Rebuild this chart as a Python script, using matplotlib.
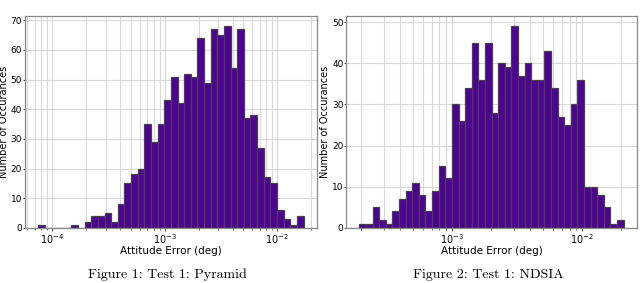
import numpy as np
import matplotlib
matplotlib.use("Agg")
import matplotlib.pyplot as plt

# Histogram data (counts per log-spaced bin)
pyramid_counts = [1, 0, 0, 0, 0, 1, 0, 2, 4, 4, 5, 2, 8, 15, 18, 20, 35, 29, 35, 43,
                  51, 42, 52, 51, 64, 49, 67, 65, 68, 54, 67, 37, 38, 27, 17, 15, 6, 3, 1, 4]
pyramid_log_range = (-4.124, -1.767)   # log10 of min / max attitude error

ndsia_counts = [1, 1, 5, 2, 1, 4, 7, 9, 11, 8, 4, 9, 15, 12, 30, 26, 34, 45, 36, 45,
                28, 40, 39, 49, 37, 40, 36, 36, 43, 34, 27, 25, 30, 36, 10, 10, 8, 5, 1, 2]
ndsia_log_range = (-3.712, -1.682)

captions = ["Figure 1: Test 1: Pyramid", "Figure 2: Test 1: NDSIA"]
xlabel = "Attitude Error (deg)"
ylabel = "Number of Occurances"

fig = plt.figure(figsize=(6.4, 2.83), dpi=100)
ax1 = fig.add_axes([0.039, 0.195, 0.456, 0.748])
ax2 = fig.add_axes([0.541, 0.195, 0.454, 0.748])

face = "#4f0096"
edge = "#444444"

for ax, counts, lr, cap in [(ax1, pyramid_counts, pyramid_log_range, captions[0]),
                            (ax2, ndsia_counts, ndsia_log_range, captions[1])]:
    edges = np.logspace(lr[0], lr[1], len(counts) + 1)
    ax.bar(edges[:-1], counts, width=np.diff(edges), align="edge",
           color=face, edgecolor=edge, linewidth=0.9)
    ax.set_xscale("log")
    ax.set_axisbelow(True)
    ax.grid(True, which="major", color="#d8d8d8", linewidth=0.8)
    ax.grid(True, which="minor", axis="x", color="#d8d8d8", linewidth=0.8)
    ax.set_xlabel(xlabel, fontsize=7.5, labelpad=0)
    ax.set_ylabel(ylabel, fontsize=7)
    ax.yaxis.set_label_coords(-0.056, 0.5)
    ax.tick_params(axis="x", which="major", labelsize=7, length=2, pad=1, color="#555555")
    ax.tick_params(axis="y", which="major", labelsize=6.5, length=1.5, pad=0.5, color="#555555")
    ax.tick_params(axis="x", which="minor", length=1.2, color="#555555")
    for s in ax.spines.values():
        s.set_color("#888888")
        s.set_linewidth(0.9)
    pos = ax.get_position()
    fig.text((pos.x0 + pos.x1) / 2 - 0.005, 0.017, cap, ha="center", va="baseline",
             fontsize=10, family="cmr10")

fig.savefig("out.png", dpi=100)
